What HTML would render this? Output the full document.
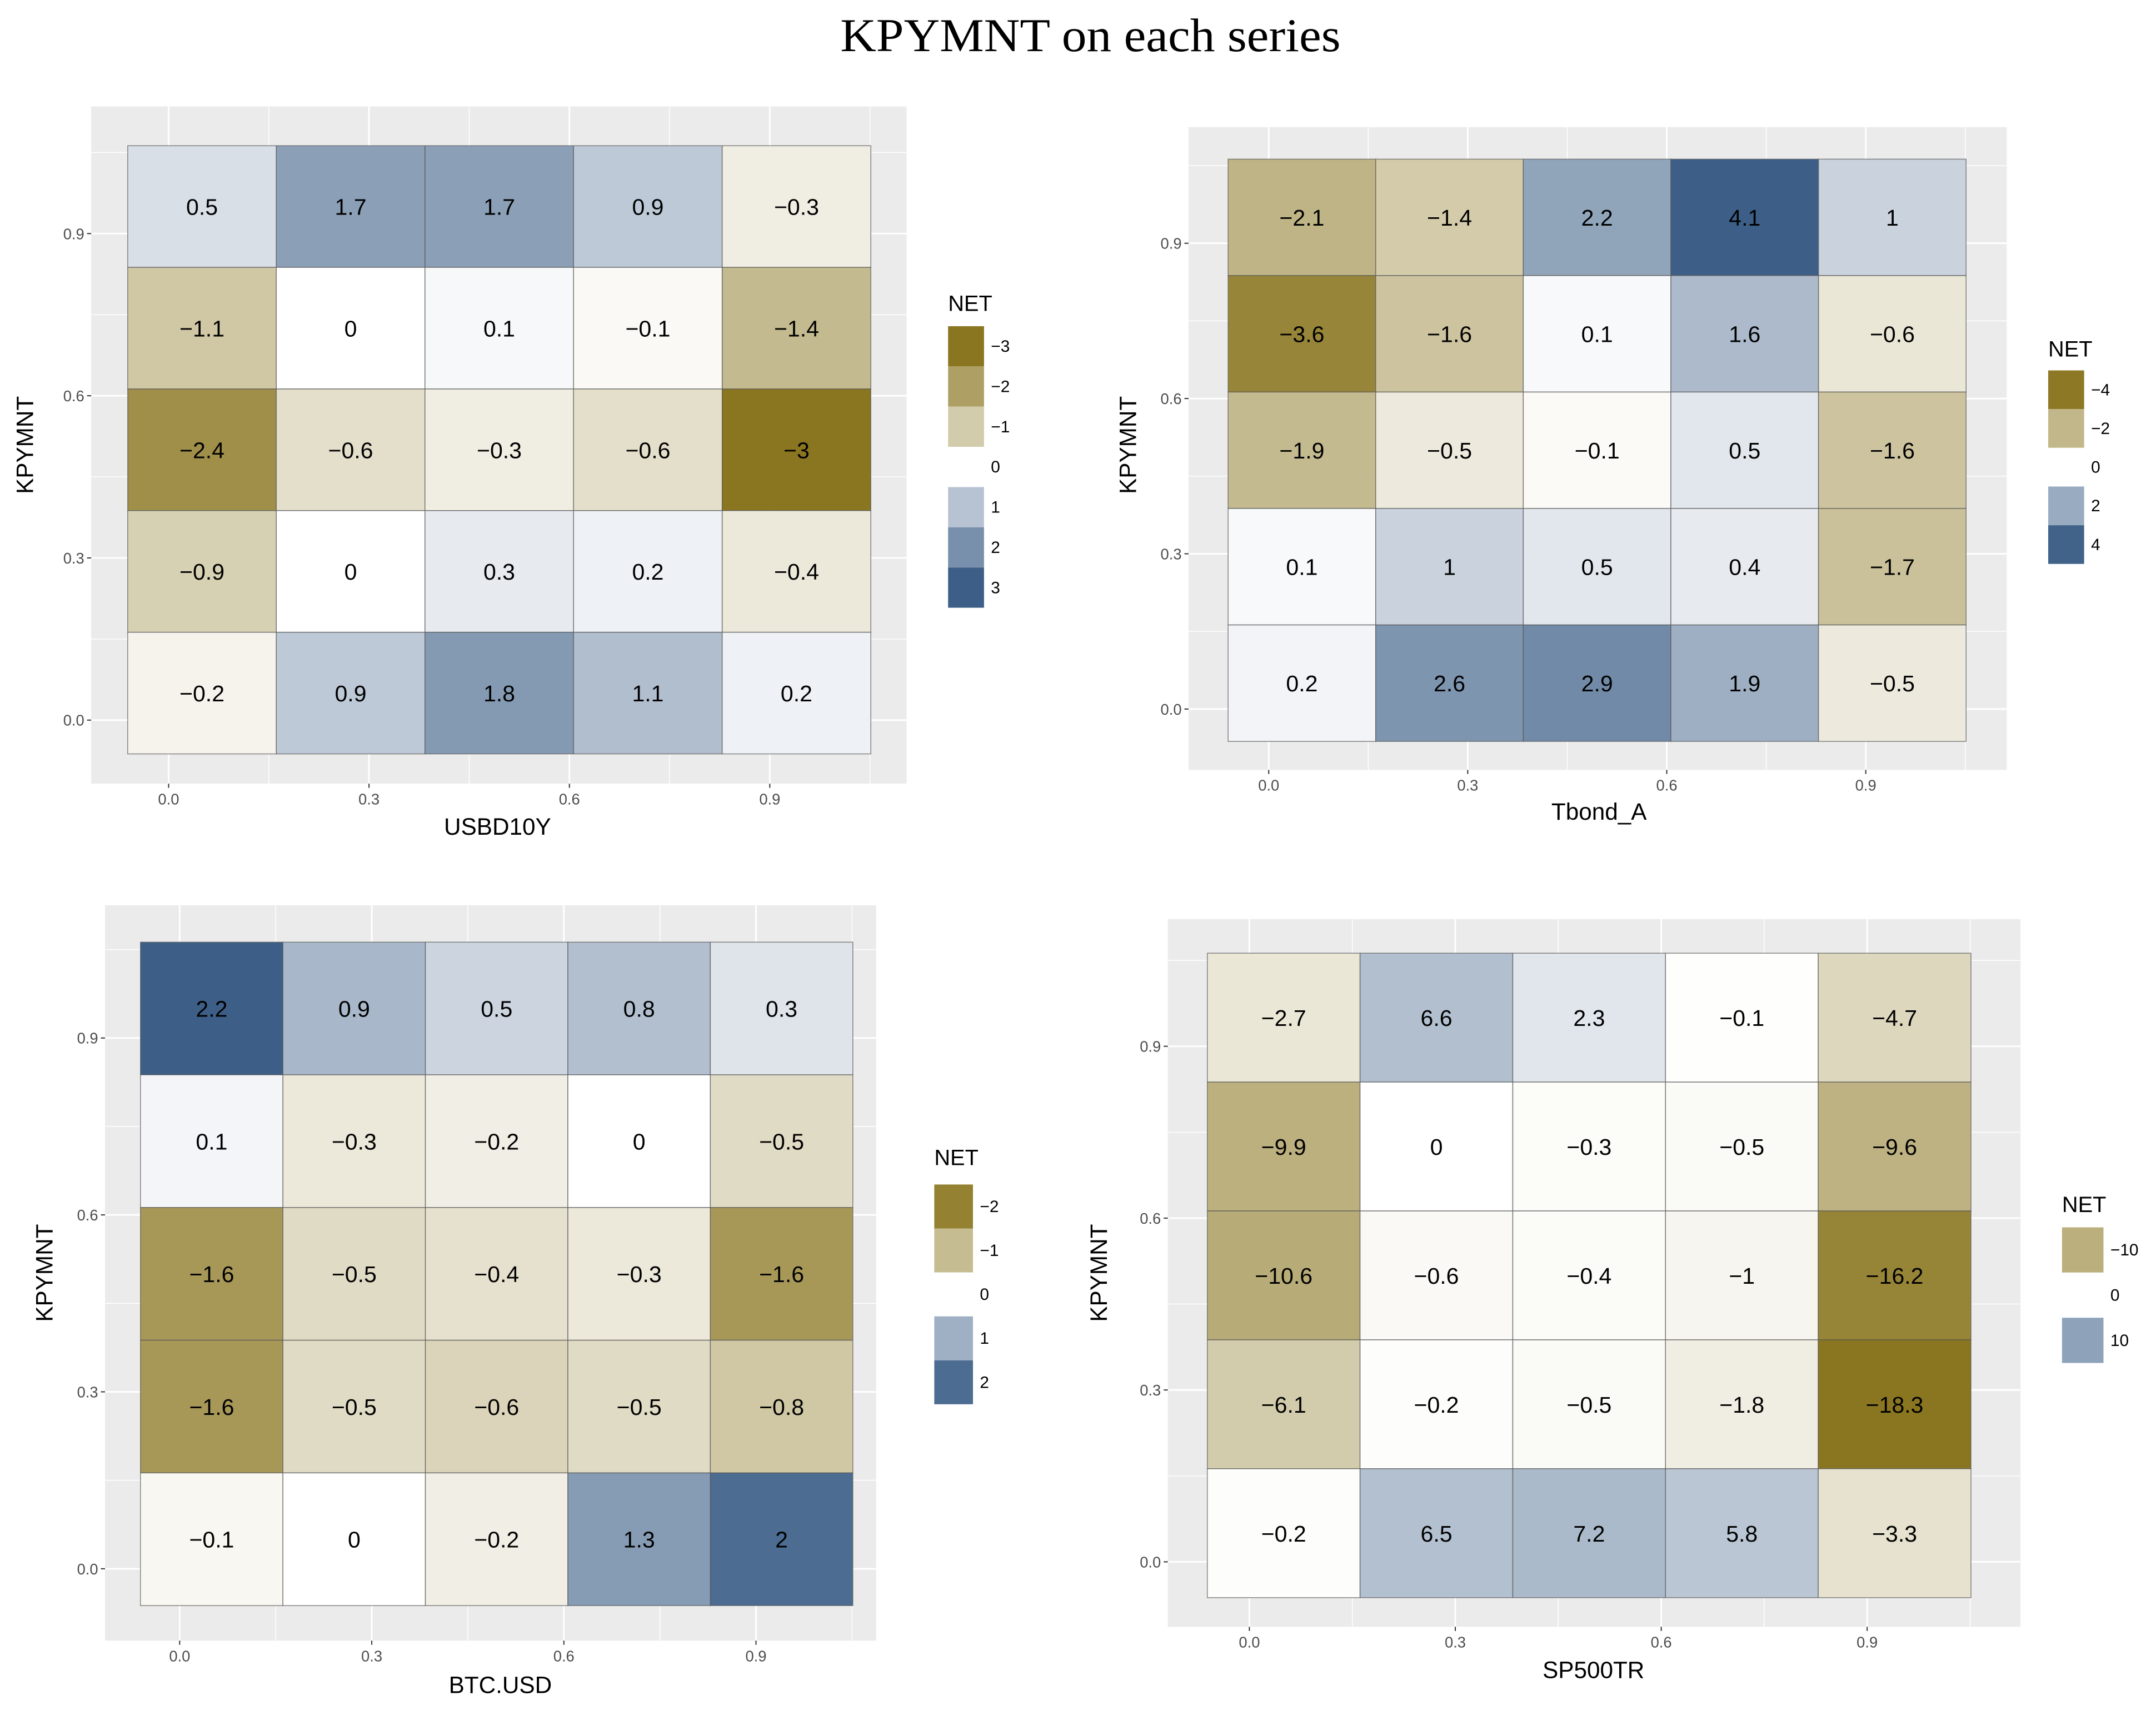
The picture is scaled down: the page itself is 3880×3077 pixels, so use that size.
<!DOCTYPE html>
<html><head><meta charset="utf-8"><style>html,body{margin:0;padding:0;background:#fff}svg{display:block}</style></head>
<body>
<svg id="chart" xmlns="http://www.w3.org/2000/svg" width="3880" height="3077" viewBox="0 0 1560 1237.2" preserveAspectRatio="none">
<rect x="0" y="0" width="1560" height="1237.2" fill="#fff"/>
<text x="789" y="37" text-anchor="middle" font-family="Liberation Serif, serif" font-size="34" textLength="362" lengthAdjust="spacingAndGlyphs" fill="#000">KPYMNT on each series</text>
</svg>
<script>
const xCenters = [0.05, 0.2725, 0.495, 0.7175, 0.94];
const yCenters = [0.95, 0.725, 0.5, 0.275, 0.05];
const tickVals = [0, 0.3, 0.6, 0.9];
const tickLabels = ["0.0", "0.3", "0.6", "0.9"];
const minorVals = [-0.15, 0.15, 0.45, 0.75, 1.05];
const valsUSBD10Y = [[0.5,1.7,1.7,0.9,-0.3],[-1.1,0,0.1,-0.1,-1.4],[-2.4,-0.6,-0.3,-0.6,-3],[-0.9,0,0.3,0.2,-0.4],[-0.2,0.9,1.8,1.1,0.2]];
const valsTbond = [[-2.1,-1.4,2.2,4.1,1],[-3.6,-1.6,0.1,1.6,-0.6],[-1.9,-0.5,-0.1,0.5,-1.6],[0.1,1,0.5,0.4,-1.7],[0.2,2.6,2.9,1.9,-0.5]];
const valsBTC = [[2.2,0.9,0.5,0.8,0.3],[0.1,-0.3,-0.2,0,-0.5],[-1.6,-0.5,-0.4,-0.3,-1.6],[-1.6,-0.5,-0.6,-0.5,-0.8],[-0.1,0,-0.2,1.3,2]];
const valsSP500 = [[-2.7,6.6,2.3,-0.1,-4.7],[-9.9,0,-0.3,-0.5,-9.6],[-10.6,-0.6,-0.4,-1,-16.2],[-6.1,-0.2,-0.5,-1.8,-18.3],[-0.2,6.5,7.2,5.8,-3.3]];
const legUSBD = [-3,-2,-1,0,1,2,3];
const legTbond = [-4,-2,0,2,4];
const legBTC = [-2,-1,0,1,2];
const legSP = [-10,0,10];

const panels = [
 {id:'usbd10y', vals:valsUSBD10Y, leg:legUSBD, bg:[66,77,656,567], xt:[122,557], yt:[521,169], xtitle:'USBD10Y', xtp:[360,604], ytp:[24,322], L:{x:686,y:225,top:236,h:29.1}},
 {id:'tbond', vals:valsTbond, leg:legTbond, bg:[860,92,1452,557], xt:[918,1350], yt:[513,176], xtitle:'Tbond_A', xtp:[1157,593], ytp:[822,322], L:{x:1482,y:258,top:268,h:28}},
 {id:'btc', vals:valsBTC, leg:legBTC, bg:[76,655,634,1187], xt:[130,547], yt:[1135,751], xtitle:'BTC.USD', xtp:[362,1225], ytp:[38,921], L:{x:676,y:843,top:857,h:31.8}},
 {id:'sp500', vals:valsSP500, leg:legSP, bg:[845,665,1462,1177], xt:[904,1351], yt:[1130,757], xtitle:'SP500TR', xtp:[1153,1214], ytp:[801,921], L:{x:1492,y:877,top:888,h:32.7}}
];
const NS='http://www.w3.org/2000/svg';
const svg=document.getElementById('chart');
function mk(tag,attrs,parent){const e=document.createElementNS(NS,tag);for(const k in attrs)e.setAttribute(k,attrs[k]);(parent||svg).appendChild(e);return e;}
const NEG=[138,118,32], POS=[61,95,135];
function col(v,lim){let t=Math.min(1,Math.abs(v)/lim);const c=v<0?NEG:POS;t=Math.pow(t,0.9);
 const r=c.map(ch=>Math.round(255+(ch-255)*t));return 'rgb('+r.join(',')+')';}
panels.forEach(p=>{
 const g=mk('g',{});
 
 
 const kx=(p.xt[1]-p.xt[0])/0.9, ky=(p.yt[1]-p.yt[0])/0.9;
 const X=v=>p.xt[0]+v*kx, Y=v=>p.yt[0]+v*ky;
 const [bx1,by1,bx2,by2]=p.bg;
 const bg=mk('rect',{x:bx1,y:by1,width:bx2-bx1,height:by2-by1,fill:'#ebebeb'},g);
 
 
 minorVals.forEach(v=>{const x=X(v);if(x>bx1&&x<bx2)mk('line',{x1:x,x2:x,y1:by1,y2:by2,stroke:'#fff','stroke-width':0.6},g);
  const y=Y(v);if(y>by1&&y<by2)mk('line',{x1:bx1,x2:bx2,y1:y,y2:y,stroke:'#fff','stroke-width':0.6},g);});
 tickVals.forEach((v,i)=>{const x=X(v),y=Y(v);
  mk('line',{x1:x,x2:x,y1:by1,y2:by2,stroke:'#fff','stroke-width':1.2},g);
  mk('line',{x1:bx1,x2:bx2,y1:y,y2:y,stroke:'#fff','stroke-width':1.2},g);
  mk('line',{x1:x,x2:x,y1:by2,y2:by2+3,stroke:'#333','stroke-width':0.8},g);
  mk('line',{x1:bx1-3,x2:bx1,y1:y,y2:y,stroke:'#333','stroke-width':0.8},g);
  const tx=mk('text',{x:x,y:by2+15,'text-anchor':'middle','font-family':'Liberation Sans, sans-serif','font-size':11,fill:'#4d4d4d'},g);
  tx.textContent=tickLabels[i];
  
  
  const ty=mk('text',{x:bx1-5,y:y+4,'text-anchor':'end','font-family':'Liberation Sans, sans-serif','font-size':11,fill:'#4d4d4d'},g);
  ty.textContent=tickLabels[i];
  
  
 });
 const lim=Math.max(...p.vals.flat().map(Math.abs));
 const w=0.2225*kx, h=0.225*-ky;
 p.vals.forEach((row,r)=>row.forEach((v,c)=>{
  const cx=X(xCenters[c]), cy=Y(yCenters[r]);
  const rc=mk('rect',{x:cx-w/2,y:cy-h/2,width:w,height:h,fill:col(v,lim),stroke:'#555','stroke-opacity':0.7,'stroke-width':0.6},g);
  
  
  const t=mk('text',{x:cx,y:cy+6,'text-anchor':'middle','font-family':'Liberation Sans, sans-serif','font-size':16.5,fill:'#000'},g);
  t.textContent=String(v).replace('-','\u2212');
  
  
 }));
 const xt=mk('text',{x:p.xtp[0],y:p.xtp[1],'text-anchor':'middle','font-family':'Liberation Sans, sans-serif','font-size':17,fill:'#000'},g);
 xt.textContent=p.xtitle;
 
 
 const yt=mk('text',{x:0,y:0,transform:'translate('+p.ytp[0]+','+p.ytp[1]+') rotate(-90)','text-anchor':'middle','font-family':'Liberation Sans, sans-serif','font-size':17,fill:'#000'},g);
 yt.textContent='KPYMNT';
 
 
 const lg=mk('g',{},g);
 
 
 const lt=mk('text',{x:p.L.x,y:p.L.y,'font-family':'Liberation Sans, sans-serif','font-size':16,fill:'#000'},lg);
 lt.textContent='NET';
 
 
 const kw=p.id==='sp500'?30:(p.id==='btc'?28:26);
 p.leg.forEach((v,i)=>{const y=p.L.top+i*p.L.h;
  const k=mk('rect',{x:p.L.x,y:y,width:kw,height:p.L.h,fill:col(v,lim)},lg);
  
  
  const kt=mk('text',{x:p.L.x+kw+5,y:y+p.L.h/2+4,'font-family':'Liberation Sans, sans-serif','font-size':12,fill:'#000'},lg);
  kt.textContent=String(v).replace('-','\u2212');
  
  
 });
});
</script>
</body></html>
